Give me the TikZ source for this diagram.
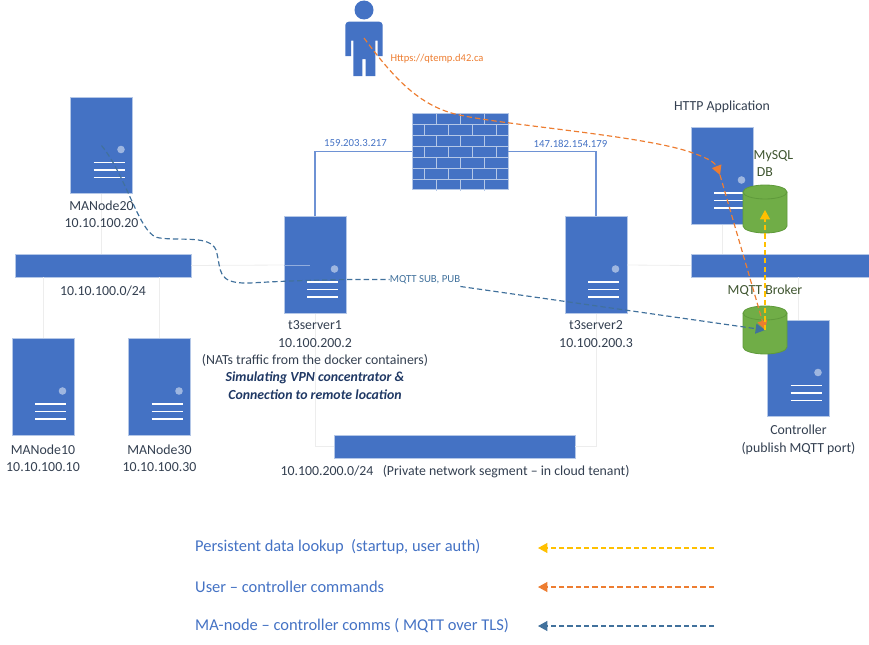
\documentclass[tikz,border=0pt]{standalone}
\usepackage{fontspec}
\setmainfont{Carlito}
\usepackage{xcolor}
\usepackage{tikz}
\usetikzlibrary{arrows.meta,calc}
\definecolor{primary}{HTML}{4472C4}
\definecolor{edgeline}{HTML}{B4C7E7}
\definecolor{wire}{HTML}{EDEDED}
\definecolor{uplink}{HTML}{6E92D4}
\definecolor{labeltext}{HTML}{333F50}
\definecolor{notetext}{HTML}{1F3864}
\definecolor{dbgreen}{HTML}{70AD47}
\definecolor{dbedge}{HTML}{5F9A3B}
\definecolor{dbtext}{HTML}{3F5530}
\definecolor{mqttblue}{HTML}{41719C}
\definecolor{useror}{HTML}{ED7D31}
\definecolor{lookup}{HTML}{FFC000}

\begin{document}
\begin{tikzpicture}[x=0.03cm, y=-0.03cm,
    server/.style={rectangle, draw=edgeline, fill=primary, line width=0.7pt, inner sep=0pt, minimum width=1.86cm, minimum height=2.9cm,
        path picture={
            \fill[edgeline!80!primary] ([shift={(19.5,4)}]path picture bounding box.center) circle (3.8);
            \foreach \yy in {17,24.5,32}
                \draw[white, line width=1.1pt] ([shift={(-8,\yy)}]path picture bounding box.center) -- ([shift={(23,\yy)}]path picture bounding box.center);
        }},
    switchbar/.style={rectangle, draw=edgeline, fill=primary, line width=0.5pt, inner sep=0pt, minimum height=0.69cm},
    dbstore/.style={rectangle, inner sep=0pt, minimum width=1.32cm, minimum height=1.44cm},
    tag/.style={font=\fontsize{11.8pt}{14.8pt}\selectfont, text=labeltext, align=center, inner sep=0pt},
    dbtag/.style={font=\fontsize{11.8pt}{14.8pt}\selectfont, text=dbtext, align=center, inner sep=0pt},
    iptag/.style={font=\fontsize{9.2pt}{11pt}\selectfont, text=primary, inner sep=0pt},
    legendtag/.style={font=\fontsize{14.05pt}{17pt}\selectfont, text=primary, anchor=west, inner sep=0pt},
    wireline/.style={draw=wire, line width=0.7pt},
    flow/.style={line width=1pt, dash pattern=on 4.5pt off 2.6pt},
    flowtip/.style={-{Triangle[length=8pt, width=8.5pt]}}
]
    \useasboundingbox (0,0) rectangle (869,644);

    % Network wires
    \coordinate (leftdrop) at (315,446);
    \coordinate (rightdrop) at (596,446);
    \node[switchbar, minimum width=5.28cm] (net100) at (103,265.5) {};
    \node[switchbar, minimum width=5.34cm] (netapp) at (780,265.5) {};
    \node[switchbar, minimum width=7.22cm] (net200) at (454.5,446.5) {};

    % Servers
    \node[server] (manode20) at (101.5,145.5) {};
    \node[server] (manode10) at (43,387) {};
    \node[server] (manode30) at (159.5,387) {};
    \node[server] (t3server1) at (315,265) {};
    \node[server] (t3server2) at (596,265) {};
    \node[server] (httpapp) at (722,176) {};
    \node[server] (controller) at (798.5,368.5) {};

    \draw[wireline] (manode20.south) -- (manode20.south |- net100.north);
    \draw[wireline] (manode10.north) -- (manode10.north |- net100.south);
    \draw[wireline] (manode30.north) -- (manode30.north |- net100.south);
    \draw[wireline] (net100.east) -- (t3server1.west);
    \draw[edgeline!70!primary, line width=0.5pt] (t3server1.west) -- ($(t3server1.center)+(-5,0)$);
    \draw[wireline] (t3server1.south) -- (leftdrop) -- (leftdrop -| net200.west);
    \draw[wireline] (t3server2.south) -- (rightdrop) -- (rightdrop -| net200.east);
    \draw[wireline] (t3server2.east) -- (netapp.west);
    \draw[wireline] (httpapp.south) -- (httpapp.south |- netapp.north);
    \draw[wireline] (controller.north) -- (controller.north |- netapp.south);

    % Firewall
    \node[rectangle, draw=edgeline, fill=primary, line width=0.5pt, inner sep=0pt, minimum width=2.86cm, minimum height=2.28cm] (firewall) at (460.3,151.5) {};
    \foreach \rowy in {-27,-16,-5,6,17,28}
        \draw[edgeline, line width=0.5pt] ([shift={(-47.6,\rowy)}]firewall.center) -- ([shift={(47.6,\rowy)}]firewall.center);
    \foreach \rowy in {-38,-16,6,28}
        \foreach \brickx in {-24,0,24}
            \draw[edgeline, line width=0.5pt] ([shift={(\brickx,\rowy)}]firewall.center) -- ([shift={(\brickx,\rowy+11)}]firewall.center);
    \foreach \rowy in {-27,-5,17}
        \foreach \brickx in {-36,-12,12,35.5}
            \draw[edgeline, line width=0.5pt] ([shift={(\brickx,\rowy)}]firewall.center) -- ([shift={(\brickx,\rowy+11)}]firewall.center);
    \draw[uplink, line width=0.9pt] (t3server1.north) |- (firewall.west);
    \draw[uplink, line width=0.9pt] (t3server2.north) |- (firewall.east);
    \node[iptag] (ipleft) at (355.5,143.5) {159.203.3.217};
    \node[iptag] (ipright) at (570.5,143.5) {147.182.154.179};

    % User
    \node[rectangle, inner sep=0pt, minimum width=1.12cm, minimum height=2.28cm] (user) at (364,38) {};
    \fill[primary] (364,10) circle (9.5);
    \fill[primary] (345.3,56) [rounded corners=3pt] -- (345.3,21.7) -- (382.7,21.7) [sharp corners] -- (382.7,56) -- (377.5,56) -- (377.5,40.7) -- (375.3,40.7) -- (375.3,76) -- (365.7,76) -- (365.7,59) -- (362.3,59) -- (362.3,76) -- (353.3,76) -- (353.3,40.7) -- (351,40.7) -- (351,56) -- cycle;

    % Databases
    \node[dbstore] (mysqldb) at (765,209) {};
    \node[dbstore] (broker) at (765,330) {};
    \foreach \dbname in {mysqldb,broker} {
        \filldraw[draw=dbedge, fill=dbgreen, line width=0.7pt] ([shift={(-22,-17)}]\dbname.center) arc (180:360:22 and 7) -- ([shift={(22,17)}]\dbname.center) arc (0:180:22 and 7) -- cycle;
        \draw[dbedge, line width=0.7pt] ([shift={(-22,-17)}]\dbname.center) arc (180:0:22 and 7);
    }

    % Labels
    \node[tag, anchor=north] (lbl20) at (101.5,200.5) {MANode20\\10.10.100.20};
    \node[tag] (lblnet100) at (103,291) {10.10.100.0/24};
    \node[tag, anchor=north] (lbl10) at (43,444.5) {MANode10\\10.10.100.10};
    \node[tag, anchor=north] (lbl30) at (159.5,444.5) {MANode30\\10.10.100.30};
    \node[tag, anchor=north] (lbl1) at (315,320.5) {t3server1\\10.100.200.2\\(NATs traffic from the docker containers)\\\textcolor{notetext}{\textbf{\textit{Simulating VPN concentrator \&}}}\\\textcolor{notetext}{\textbf{\textit{Connection to remote location}}}};
    \node[tag, anchor=north] (lbl2) at (596,320.5) {t3server2\\10.100.200.3};
    \node[tag] (lblnet200) at (455,471.5) {10.100.200.0/24\ \ \ (Private network segment – in cloud tenant)};
    \node[tag] (lblhttp) at (722,107) {HTTP Application};
    \node[tag, anchor=north] (lblctrl) at (798.5,425) {Controller\\(publish MQTT port)};
    \node[dbtag] (lblmysql) at (773.5,156) {MySQL};
    \node[dbtag] (lbldb) at (765,172) {DB};
    \node[dbtag] (lblbroker) at (765,291) {MQTT Broker};

    % Flows
    \node[font=\fontsize{9.2pt}{11pt}\selectfont, text=mqttblue, inner sep=0pt] (lblmqtt) at (425,279.5) {MQTT SUB, PUB};
    \node[font=\fontsize{9pt}{11pt}\selectfont, text=useror, inner sep=0pt] (lblhttps) at (437,58.5) {Https://qtemp.d42.ca};
    \draw[flow, draw=mqttblue] (manode20.center) .. controls (128,178) and (140,238) .. (160,238) .. controls (180,241) and (210,235) .. (216,250) .. controls (222,270) and (215,284) .. (250,283) .. controls (285,281) and (330,279) .. (lblmqtt.west);
    \draw[flow, flowtip, draw=mqttblue] (lblmqtt.east) ++(0,7) -- (broker.center);
    \draw[flow, flowtip, draw=useror] (user.center) .. controls (395,80) and (420,105) .. (455,114) .. controls (500,125) and (640,135) .. (690,152) .. controls (705,157) and (715,162) .. (720,175);
    \draw[flow, flowtip, draw=useror] (720,175) -- (broker.center);
    \draw[flow, flowtip, draw=lookup] (broker.center) -- (765,210);

    % Legend
    \node[legendtag] (lgd1) at (195,547) {Persistent data lookup\ \ (startup, user auth)};
    \node[legendtag] (lgd2) at (195,587) {User – controller commands};
    \node[legendtag] (lgd3) at (195,626) {MA-node – controller comms ( MQTT over TLS)};
    \coordinate (k1) at (714,548);
    \coordinate (k2) at (714,587);
    \coordinate (k3) at (714,626);
    \draw[flow, flowtip, draw=lookup] (k1) -- (538,548);
    \draw[flow, flowtip, draw=useror] (k2) -- (538,587);
    \draw[flow, flowtip, draw=mqttblue] (k3) -- (538,626);
\end{tikzpicture}
\end{document}
